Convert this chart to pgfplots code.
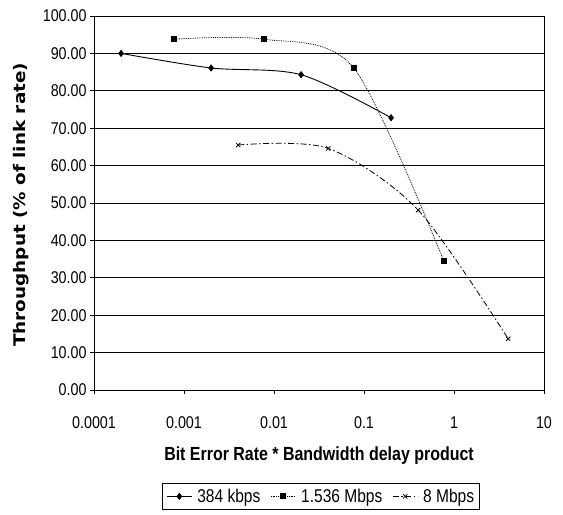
\documentclass[border=0pt]{standalone}
\usepackage{fontspec}
\setmainfont{Liberation Sans}
\newfontfamily\narrowfont[FakeStretch=0.84]{Liberation Sans}
\newfontfamily\ylabfont[FakeStretch=1.15]{DejaVu Sans}
\usepackage{pgfplots}
\pgfplotsset{compat=1.18}
\begin{document}
\begin{tikzpicture}
\useasboundingbox (0,0) rectangle (563bp,515bp);
\begin{axis}[
  at={(94bp,125bp)}, anchor=south west,
  scale only axis, width=450bp, height=374bp,
  xmode=log, xmin=1e-4, xmax=10, ymin=0, ymax=100,
  xtick={1e-4,1e-3,1e-2,1e-1,1,10},
  xticklabels={0.0001,0.001,0.01,0.1,1,10},
  xminorticks=false,
  ytick={0,10,...,100},
  ymajorgrids, grid style={black, line width=0.8pt},
  axis line style={black, line width=0.8pt},
  tick style={black, line width=0.8pt},
  tick align=outside, major tick length=4bp,
  xtick pos=bottom, ytick pos=left,
  yticklabel style={/pgf/number format/.cd, fixed, fixed zerofill, precision=2, assume math mode=true},
  ticklabel style={font=\narrowfont\fontsize{17bp}{20bp}\selectfont},
  xticklabel style={yshift=-19bp},
  xlabel={Bit Error Rate * Bandwidth delay product},
  ylabel={Throughput (\% of link rate)},
  every axis x label/.style={at={(axis description cs:0.5,-0.1898)}, anchor=base, font=\narrowfont\bfseries\fontsize{19bp}{22bp}\selectfont},
  every axis y label/.style={at={(axis description cs:-0.1622,0.495)}, anchor=center, rotate=90, font=\ylabfont\bfseries\fontsize{16bp}{19bp}\selectfont},
  legend columns=3,
  legend style={at={(axis description cs:0.504,-0.2487)}, anchor=north, draw=black, line width=0.8pt,
    font=\narrowfont\fontsize{18.5bp}{21bp}\selectfont, inner xsep=4bp, inner ysep=4.5bp,
    nodes={inner sep=1bp},
    /tikz/every odd column/.append style={column sep=4bp},
    /tikz/every even column/.append style={column sep=9bp}},
  legend image code/.code={\draw[mark repeat=2,mark phase=2] plot coordinates {(0bp,0bp) (12.5bp,0bp) (25bp,0bp)};},
]
\addplot[black, line width=0.9pt, smooth, mark=diamond*, mark size=3bp, mark options={solid}]
  coordinates {(0.0002,90.0) (0.002,86.1) (0.02,84.3) (0.2,72.8)};
\addlegendentry{384 kbps}
\addplot[black, line width=0.8pt, smooth, densely dotted, mark=square*, mark size=2.5bp, mark options={solid}]
  coordinates {(0.00077,93.8) (0.0077,93.8) (0.077,86.1) (0.77,34.5)};
\addlegendentry{1.536 Mbps}
\addplot[black, line width=0.8pt, smooth, dash pattern=on 6bp off 2.5bp on 1.5bp off 2.5bp, mark=x, mark size=3bp, mark options={solid}]
  coordinates {(0.004,65.5) (0.04,64.6) (0.4,48.1) (4,13.7)};
\addlegendentry{8 Mbps}
\end{axis}
\end{tikzpicture}
\end{document}
